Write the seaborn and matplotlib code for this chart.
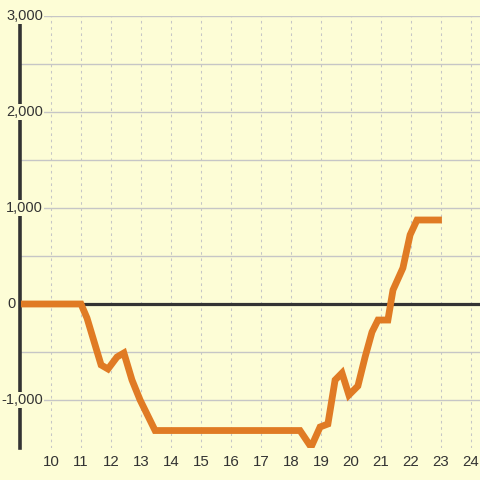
import matplotlib
matplotlib.use('Agg')
import matplotlib.pyplot as plt
import pandas as pd
import seaborn as sns

## data (hour of day, value)
hours = [9.0, 11.0, 11.2, 11.47, 11.67, 11.9, 12.2, 12.43, 12.7, 12.97, 13.47,
         18.3, 18.67, 18.97, 19.23, 19.47, 19.7, 19.93, 20.23, 20.47, 20.7,
         20.9, 21.23, 21.4, 21.73, 21.97, 22.2, 23.03]
values = [0, 0, -146, -427, -635, -677, -552, -510, -792, -1000, -1318,
          -1318, -1490, -1281, -1250, -792, -719, -948, -854, -552, -292,
          -167, -167, 146, 375, 720, 875, 875]

x_ticks = list(range(10, 25))
y_major = [-1000, 0, 1000, 2000, 3000]
y_labels = ['-1,000', '0', '1,000', '2,000', '3,000']
y_minor = [-500, 500, 1500, 2500]

df = pd.DataFrame({'hour': hours, 'value': values})

bg = '#fdfdd6'
ink = '#333333'
grid = '#c6c6c6'
orange = '#e07b24'

sns.set_theme(style='white')
plt.rcParams['font.family'] = ['Liberation Sans', 'DejaVu Sans']

fig = plt.figure(figsize=(4.8, 4.8), dpi=100, facecolor=bg)
ax = fig.add_axes([20 / 480, 32 / 480, 460 / 480, 432 / 480])
ax.set_facecolor(bg)

## grid
for y in y_major + y_minor:
    if y != 0:
        ax.axhline(y, color=grid, lw=1, zorder=1)
for x in x_ticks:
    ax.axvline(x, color=grid, lw=0.75, ls=(0, (2.5, 3.5)), zorder=1)
ax.axhline(0, color=ink, lw=2.3, zorder=2)

sns.lineplot(data=df, x='hour', y='value', ax=ax, color=orange, lw=4.9,
             solid_capstyle='butt', solid_joinstyle='miter', zorder=3)

ax.set_xlim(8.967, 24.3)
ax.set_ylim(-1500, 3000)
ax.set_xlabel('')
ax.set_ylabel('')

for side in ['top', 'right', 'bottom']:
    ax.spines[side].set_visible(False)
ax.spines['left'].set_color(ink)
ax.spines['left'].set_linewidth(2.6)
ax.spines['left'].set_zorder(2)

ax.set_xticks(x_ticks)
ax.set_xticklabels([str(t) for t in x_ticks])
ax.tick_params(axis='x', length=0, pad=5, labelsize=10.8, labelcolor=ink)
ax.set_yticks([])

## y labels sit over the spine, the "0" one just left of it
ytr = ax.get_yaxis_transform()
for val, lab in zip(y_major, y_labels):
    xr = -0.009 if val == 0 else 0.05
    ax.text(xr, val, lab, transform=ytr, ha='right', va='center',
            fontsize=10.5, color=ink, zorder=6, clip_on=False,
            bbox=dict(facecolor=bg, edgecolor='none', pad=0.8))

fig.savefig('out.png', dpi=100, facecolor=bg)
